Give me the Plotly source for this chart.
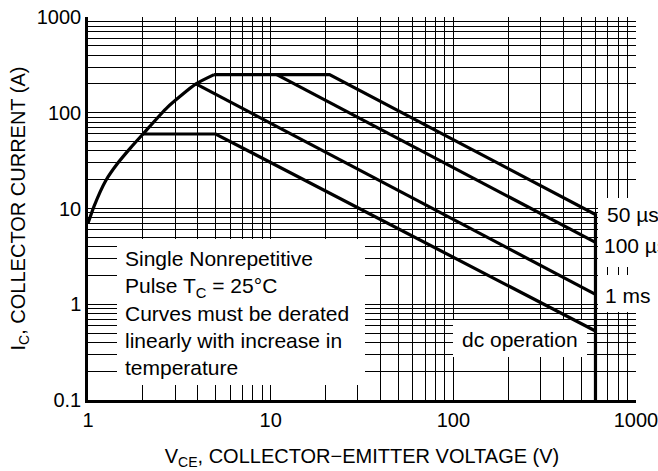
import plotly.graph_objects as go

# ---- data ----
# boundary (thermal / current limit) curve
bound_v = [1, 1.08, 1.25, 1.45, 1.71, 2.0, 2.72, 3.9, 4.9]
bound_i = [7, 10.6, 19.5, 29.5, 43, 60, 114, 200, 250]
# 50 us pulse
us50_v = [4.9, 21, 600, 600]
us50_i = [250, 250, 8.66, 0.1]
# 100 us pulse
us100_v = [10.8, 600]
us100_i = [250, 4.42]
# 1 ms pulse
ms1_v = [3.9, 600]
ms1_i = [200, 1.27]
# dc operation
dc_v = [2.0, 5.0, 600]
dc_i = [60, 60, 0.525]

x_major = [1, 10, 100, 1000]
x_major_text = ["1", "10", "100", "1000"]
y_major = [0.1, 1, 10, 100, 1000]
y_major_text = ["0.1", "1", "10", "100", "1000"]
x_minor = [m * d for d in [1, 10, 100] for m in range(2, 10)]
y_minor = [m * d for d in [0.1, 1, 10, 100] for m in range(2, 10)]

FONT = "Liberation Sans, Arial, Helvetica, sans-serif"
W, H = 658, 471
L, R, T, B = 88, 636, 17, 400
XR = (0, 3)    # log10 range of x axis
YR = (-1, 3)   # log10 range of y axis


def px(x):
    return (x - L) / (R - L)


def py(y):
    return (B - y) / (B - T)


def pix_to_x(xp):
    return 10 ** (XR[0] + px(xp) * (XR[1] - XR[0]))


def pix_to_y(yp):
    return 10 ** (YR[0] + py(yp) * (YR[1] - YR[0]))


fig = go.Figure()

# white masks behind the labels (drawn first: above the grid, below the curves)
mask_boxes = [(117, 365, 239, 385), (453, 587, 320, 357),
              (598, 645, 198, 267), (598, 645, 275, 312)]
for (x0, x1, y0, y1) in mask_boxes:
    xa, xb = pix_to_x(x0), pix_to_x(x1)
    ya, yb = pix_to_y(y1), pix_to_y(y0)
    fig.add_trace(go.Scatter(x=[xa, xb, xb, xa, xa], y=[ya, ya, yb, yb, ya],
                             mode="lines", fill="toself", fillcolor="white",
                             line=dict(width=0, color="white"), cliponaxis=True))

line = dict(color="black", width=3.2)
fig.add_trace(go.Scatter(x=bound_v, y=bound_i, mode="lines",
                         line=dict(color="black", width=3.2, shape="spline", smoothing=0.6)))
fig.add_trace(go.Scatter(x=us50_v, y=us50_i, mode="lines", line=line))
fig.add_trace(go.Scatter(x=us100_v, y=us100_i, mode="lines", line=line))
fig.add_trace(go.Scatter(x=ms1_v, y=ms1_i, mode="lines", line=line))
fig.add_trace(go.Scatter(x=dc_v, y=dc_i, mode="lines", line=line))
fig.update_traces(showlegend=False, hoverinfo="skip")

annotations = [
    dict(text="Single Nonrepetitive<br>Pulse T<sub>C</sub> = 25°C<br>Curves must be derated"
              "<br>linearly with increase in<br>temperature",
         x=px(123), y=py(313), xanchor="left", yanchor="middle", align="left"),
    dict(text="dc operation", x=px(520), y=py(339), xanchor="center", yanchor="middle"),
    dict(text="50 µs", x=px(605), y=py(215), xanchor="left", yanchor="middle"),
    dict(text="100 µs", x=px(602), y=py(245), xanchor="left", yanchor="middle"),
    dict(text="1 ms", x=px(603), y=py(295), xanchor="left", yanchor="middle"),
]
for a in annotations:
    a.update(xref="paper", yref="paper", showarrow=False,
             font=dict(family=FONT, size=21, color="black"))

axis_common = dict(
    type="log", showgrid=True, gridcolor="black", gridwidth=1,
    showline=True, linecolor="black", linewidth=2.5, ticks="",
    tickfont=dict(family=FONT, size=20, color="black"), zeroline=False,
    automargin=False, ticklabeloverflow="allow",
)

fig.update_layout(
    width=W, height=H,
    margin=dict(l=L, r=W - R, t=T, b=H - B),
    paper_bgcolor="white", plot_bgcolor="white",
    font=dict(family=FONT, color="black"),
    annotations=annotations,
    xaxis=dict(axis_common, range=list(XR), tickvals=x_major, ticktext=x_major_text,
               minor=dict(tickvals=x_minor, showgrid=True, gridcolor="black", gridwidth=1, ticks=""),
               title=dict(text="V<sub>CE</sub>, COLLECTOR−EMITTER VOLTAGE (V)",
                          font=dict(family=FONT, size=20, color="black"), standoff=20)),
    yaxis=dict(axis_common, range=list(YR), tickvals=y_major, ticktext=y_major_text,
               minor=dict(tickvals=y_minor, showgrid=True, gridcolor="black", gridwidth=1, ticks=""),
               title=dict(text="I<sub>C</sub>, COLLECTOR CURRENT (A)",
                          font=dict(family=FONT, size=20, color="black"), standoff=6)),
)

fig.write_html("out.html", config={"displayModeBar": False},
               post_script="document.body.style.margin='0';document.body.style.overflow='hidden';")
